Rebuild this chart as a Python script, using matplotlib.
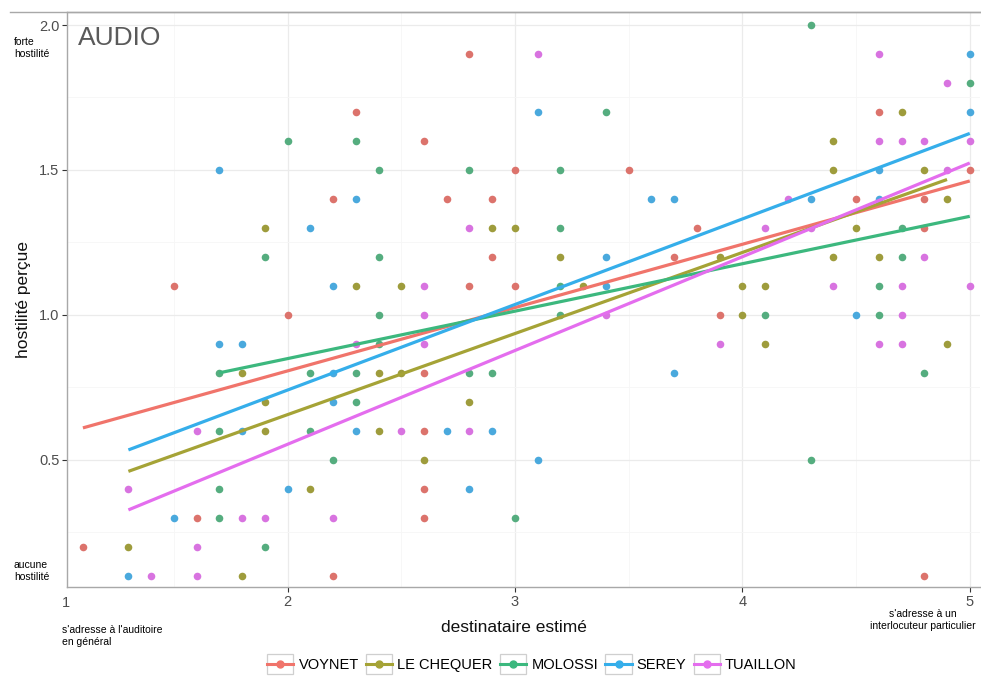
import matplotlib
matplotlib.use("Agg")
import matplotlib.pyplot as plt
from matplotlib.lines import Line2D
from matplotlib.patches import Rectangle
from matplotlib.legend_handler import HandlerLine2D
from matplotlib.ticker import MultipleLocator

plt.rcParams['font.family'] = ['Liberation Sans', 'DejaVu Sans']

# candidats et couleurs (palette ggplot, un peu ternie comme sur l'image)
names = ["VOYNET", "LE CHEQUER", "MOLOSSI", "SEREY", "TUAILLON"]
line_colors = ["#F0746B", "#A5A336", "#3CB87E", "#35AEEA", "#E46DEE"]
point_colors = ["#DC736C", "#9E9C3C", "#55AD7F", "#4AA9DD", "#D873E0"]

# points (destinataire estimé, hostilité perçue)
voynet_x = [1.1, 1.5, 1.6, 2.0, 2.2, 2.2, 2.3, 2.6, 2.6, 2.6, 2.6, 2.6, 2.7, 2.8, 2.8,
            2.9, 2.9, 3.0, 3.0, 3.5, 3.7, 3.8, 3.9, 4.5, 4.6, 4.8, 4.8, 4.8, 5.0]
voynet_y = [0.2, 1.1, 0.3, 1.0, 1.4, 0.1, 1.7, 1.6, 0.8, 0.6, 0.4, 0.3, 1.4, 1.9, 1.1,
            1.4, 1.2, 1.5, 1.1, 1.5, 1.2, 1.3, 1.0, 1.4, 1.7, 1.4, 1.3, 0.1, 1.5]

lechequer_x = [1.3, 1.8, 1.8, 1.9, 1.9, 1.9, 2.1, 2.3, 2.4, 2.4, 2.5, 2.5, 2.6, 2.8, 2.9, 3.0,
               3.2, 3.3, 3.9, 4.0, 4.0, 4.1, 4.1, 4.4, 4.4, 4.4, 4.5, 4.6, 4.7, 4.8, 4.9, 4.9]
lechequer_y = [0.2, 0.8, 0.1, 1.3, 0.7, 0.6, 0.4, 1.1, 0.8, 0.6, 1.1, 0.8, 0.5, 0.7, 1.3, 1.3,
               1.2, 1.1, 1.2, 1.1, 1.0, 1.1, 0.9, 1.6, 1.5, 1.2, 1.3, 1.2, 1.7, 1.5, 1.4, 0.9]

molossi_x = [1.7, 1.7, 1.7, 1.7, 1.9, 1.9, 2.0, 2.1, 2.1, 2.2, 2.3, 2.3, 2.3, 2.4, 2.4, 2.4, 2.4, 2.8,
             2.8, 2.9, 3.0, 3.2, 3.2, 3.2, 3.2, 3.4, 4.1, 4.3, 4.3, 4.6, 4.6, 4.7, 4.7, 4.8, 5.0]
molossi_y = [0.8, 0.6, 0.4, 0.3, 1.2, 0.2, 1.6, 0.8, 0.6, 0.5, 1.6, 0.8, 0.7, 1.5, 1.2, 1.0, 0.9, 1.5,
             0.8, 0.8, 0.3, 1.5, 1.3, 1.1, 1.0, 1.7, 1.0, 2.0, 0.5, 1.1, 1.0, 1.3, 1.2, 0.8, 1.8]

serey_x = [1.3, 1.5, 1.7, 1.7, 1.8, 1.8, 2.0, 2.1, 2.2, 2.2, 2.2, 2.3, 2.3, 2.7, 2.8,
           2.9, 3.1, 3.1, 3.4, 3.4, 3.6, 3.7, 3.7, 4.3, 4.5, 4.6, 4.6, 5.0, 5.0]
serey_y = [0.1, 0.3, 1.5, 0.9, 0.9, 0.6, 0.4, 1.3, 1.1, 0.8, 0.7, 1.4, 0.6, 0.6, 0.4,
           0.6, 1.7, 0.5, 1.2, 1.1, 1.4, 1.4, 0.8, 1.4, 1.0, 1.5, 1.4, 1.9, 1.7]

tuaillon_x = [1.3, 1.4, 1.6, 1.6, 1.6, 1.8, 1.9, 2.2, 2.3, 2.5, 2.6, 2.6, 2.6, 2.8, 2.8, 3.1, 3.4, 3.9,
              4.1, 4.2, 4.3, 4.4, 4.6, 4.6, 4.6, 4.7, 4.7, 4.7, 4.7, 4.8, 4.8, 4.9, 4.9, 5.0, 5.0]
tuaillon_y = [0.4, 0.1, 0.6, 0.2, 0.1, 0.3, 0.3, 0.3, 0.9, 0.6, 1.1, 1.0, 0.9, 1.3, 0.6, 1.9, 1.0, 0.9,
              1.3, 1.4, 1.3, 1.1, 1.9, 1.6, 0.9, 1.6, 1.1, 1.0, 0.9, 1.6, 1.2, 1.8, 1.5, 1.6, 1.1]

# droites de régression (valeur au début et à la fin)
trend_start = [0.61, 0.46, 0.80, 0.534, 0.327]
trend_end = [1.462, 1.467, 1.340, 1.626, 1.524]

series_x = [voynet_x, lechequer_x, molossi_x, serey_x, tuaillon_x]
series_y = [voynet_y, lechequer_y, molossi_y, serey_y, tuaillon_y]


class BoxedKey(HandlerLine2D):
    # clé de légende façon ggplot : petite boîte grise autour du trait
    def create_artists(self, legend, orig_handle, xdescent, ydescent,
                       width, height, fontsize, trans):
        arts = super().create_artists(legend, orig_handle, xdescent, ydescent,
                                      width, height, fontsize, trans)
        box = Rectangle((-xdescent, -ydescent - 0.45 * height), width, 1.9 * height,
                        facecolor="white", edgecolor="#CFCFCF", lw=0.9,
                        transform=trans)
        return [box] + arts


fig = plt.figure(figsize=(9.81, 6.78), dpi=100)
ax = fig.add_axes([67 / 981, 1 - 587 / 678, 913 / 981, 575 / 678])

ax.set_xlim(1.03, 5.045)
ax.set_ylim(0.061, 2.045)
ax.xaxis.set_major_locator(MultipleLocator(1))
ax.xaxis.set_minor_locator(MultipleLocator(0.5))
ax.yaxis.set_minor_locator(MultipleLocator(0.25))
ax.set_yticks([0.5, 1.0, 1.5, 2.0])
ax.set_yticklabels(["0.5", "1.0", "1.5", "2.0"])
ax.grid(True, which="major", color="#EBEBEB", lw=0.9, zorder=0)
ax.grid(True, which="minor", color="#F6F6F6", lw=0.6, zorder=0)
ax.set_axisbelow(True)
ax.tick_params(which="minor", length=0)
ax.tick_params(which="major", length=3.5, width=0.8, color="#333333",
               labelsize=10.5, labelcolor="#4D4D4D", pad=2)
for s in ax.spines.values():
    s.set_color("#A8A8A8")
    s.set_linewidth(1.0)
ax.spines["right"].set_visible(False)

for i in range(5):
    ax.scatter(series_x[i], series_y[i], s=30, color=point_colors[i],
               linewidths=0, zorder=3, clip_on=False)

for i in range(5):
    x0, x1 = min(series_x[i]), max(series_x[i])
    ax.plot([x0, x1], [trend_start[i], trend_end[i]], color=line_colors[i], lw=2.3,
            solid_capstyle="butt", zorder=4)

ax.text(0.012, 0.975, "AUDIO", transform=ax.transAxes, fontsize=19, color="#5A5A5A",
        ha="left", va="top")

ax.set_xlabel("destinataire estimé", fontsize=12.5, color="#111111")
ax.set_ylabel("hostilité perçue", fontsize=12.5, color="#111111", labelpad=6)
ax.xaxis.set_label_coords(0.49, -0.058)

fig.text(66 / 981, 1 - 603 / 678, "1", fontsize=10.5, color="#4D4D4D", ha="center",
         va="center")
fig.text(14 / 981, 1 - 48 / 678, "forte\nhostilité", fontsize=7.5, ha="left", va="center",
         linespacing=1.3)
fig.text(14 / 981, 1 - 571 / 678, "aucune\nhostilité", fontsize=7.5, ha="left", va="center",
         linespacing=1.3)
fig.text(62 / 981, 1 - 636 / 678, "s'adresse à l'auditoire\nen général", fontsize=7.5,
         ha="left", va="center", linespacing=1.3)
fig.text(923 / 981, 1 - 620 / 678, "s'adresse à un\ninterlocuteur particulier", fontsize=7.5,
         ha="center", va="center", linespacing=1.3)
fig.add_artist(Line2D([10 / 981, 1], [1 - 12 / 678] * 2, color="#A8A8A8", lw=1.0))

handles = [Line2D([], [], color=line_colors[i], lw=2.2, marker="o", markersize=5)
           for i in range(5)]
fig.legend(handles, names, loc="center", bbox_to_anchor=(532 / 981, 1 - 665 / 678),
           ncol=5, frameon=False, fontsize=10.5, handlelength=1.8, handletextpad=0.35,
           columnspacing=0.5, borderpad=0.1,
           handler_map={Line2D: BoxedKey()})

fig.savefig("out.png", dpi=100)
